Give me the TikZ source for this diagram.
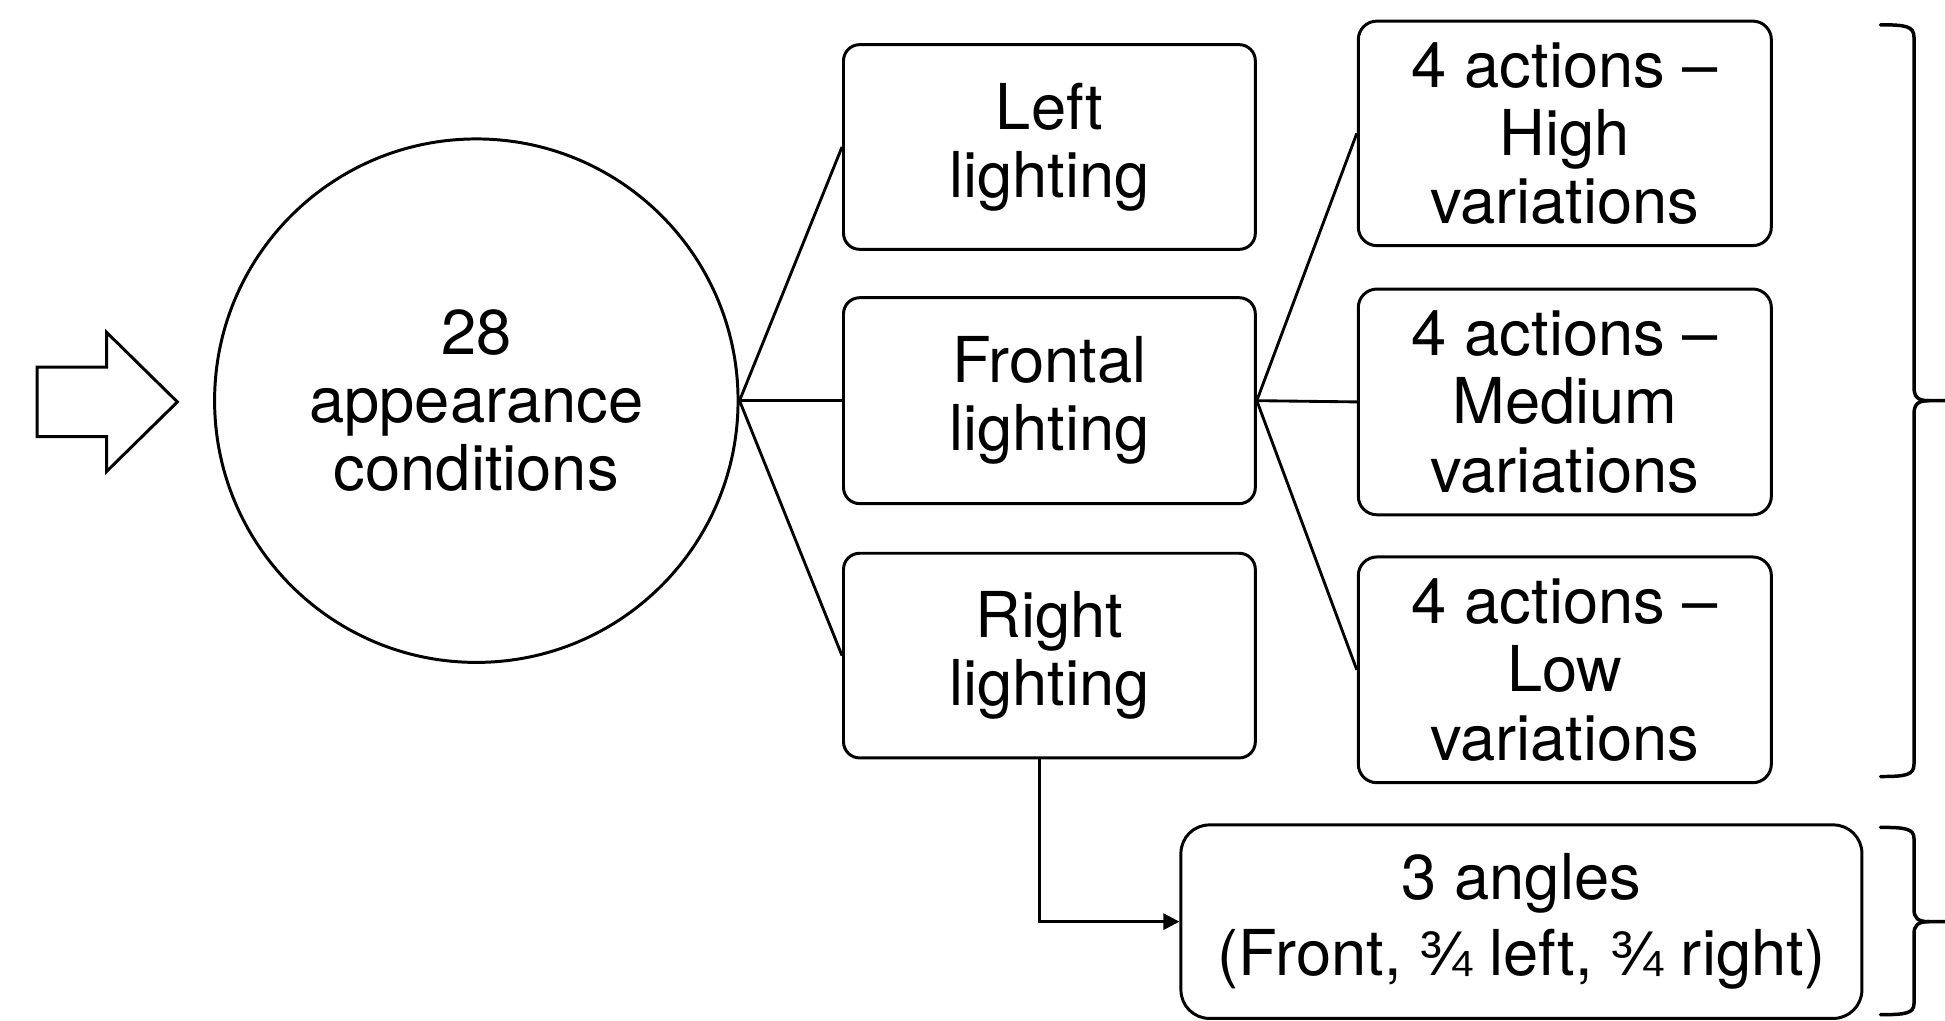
\documentclass[tikz,border=0pt]{standalone}
\usepackage{fontspec}
\setmainfont{TeX Gyre Heros}
\newfontfamily\fracfont{Liberation Sans}
\newcommand{\tq}{{\fracfont ¾}}
\usetikzlibrary{arrows.meta}
\begin{document}
\begin{tikzpicture}[x=1pt,y=-1pt,
  txt/.style={font=\fontsize{51}{55}\selectfont, align=center, inner sep=0pt},
  box/.style={txt, draw, line width=2.4pt, rounded corners=13pt, minimum width=332pt},
  hub/.style={txt, draw, circle, line width=2.4pt, minimum size=422pt},
  link/.style={line width=2.3pt},
  brace/.style={line width=2.8pt, line cap=round}]
\useasboundingbox (0,0) rectangle (1568,823);

% block arrow feeding the hub
\draw[line width=2.4pt, line join=miter]
  (30,296) -- (86,296) -- (86,268) -- (143,324) -- (86,380) -- (86,352) -- (30,352) -- cycle;

% hub
\node[hub] (hub) at (384,323) {28\\appearance\\conditions};

% lighting column
\node[box, minimum height=165pt] (left)  at (846,118.5) {Left\\lighting};
\node[box, minimum height=166pt] (front) at (846,323)   {Frontal\\lighting};
\node[box, minimum height=165pt] (right) at (846,528.5) {Right\\lighting};

% action column
\node[box, minimum width=333pt, minimum height=181pt, rounded corners=15pt] (high) at (1261.5,107.5) {4 actions –\\High\\variations};
\node[box, minimum width=333pt, minimum height=182pt, rounded corners=15pt] (med)  at (1261.5,324)   {4 actions –\\Medium\\variations};
\node[box, minimum width=333pt, minimum height=182pt, rounded corners=15pt] (low)  at (1261.5,540)   {4 actions –\\Low\\variations};

% angles box
\node[box, font=\fontsize{51}{61}\selectfont, minimum width=549pt, minimum height=156pt, rounded corners=23pt] (ang) at (1226.5,743) {3 angles\\(Front, \tq{} left, \tq{} right)};

% connectors
\draw[link] (hub.east) -- (left.west);
\draw[link] (hub.east) -- (front.west);
\draw[link] (hub.east) -- (right.west);
\draw[link] (front.east) -- (high.west);
\draw[link] (front.east) -- (med.west);
\draw[link] (front.east) -- (low.west);
\coordinate (bend) at (838,743);
\draw[link, -{Triangle[length=13pt,width=13pt]}] (right.south -| bend) -- (bend) -- (ang.west);

% braces on the right
\draw[brace] (1516,20) .. controls (1536,20) and (1543,21) .. (1543,30)
  -- (1543,312) .. controls (1543,320) and (1546,323) .. (1555,323) -- (1568,323);
\draw[brace] (1516,626) .. controls (1536,626) and (1543,625) .. (1543,616)
  -- (1543,334) .. controls (1543,326) and (1546,323) .. (1555,323);
\draw[brace] (1516,667) .. controls (1536,667) and (1543,668) .. (1543,676)
  -- (1543,733) .. controls (1543,740) and (1546,743) .. (1555,743) -- (1568,743);
\draw[brace] (1516,818) .. controls (1536,818) and (1543,817) .. (1543,809)
  -- (1543,753) .. controls (1543,746) and (1546,743) .. (1555,743);
\end{tikzpicture}
\end{document}
